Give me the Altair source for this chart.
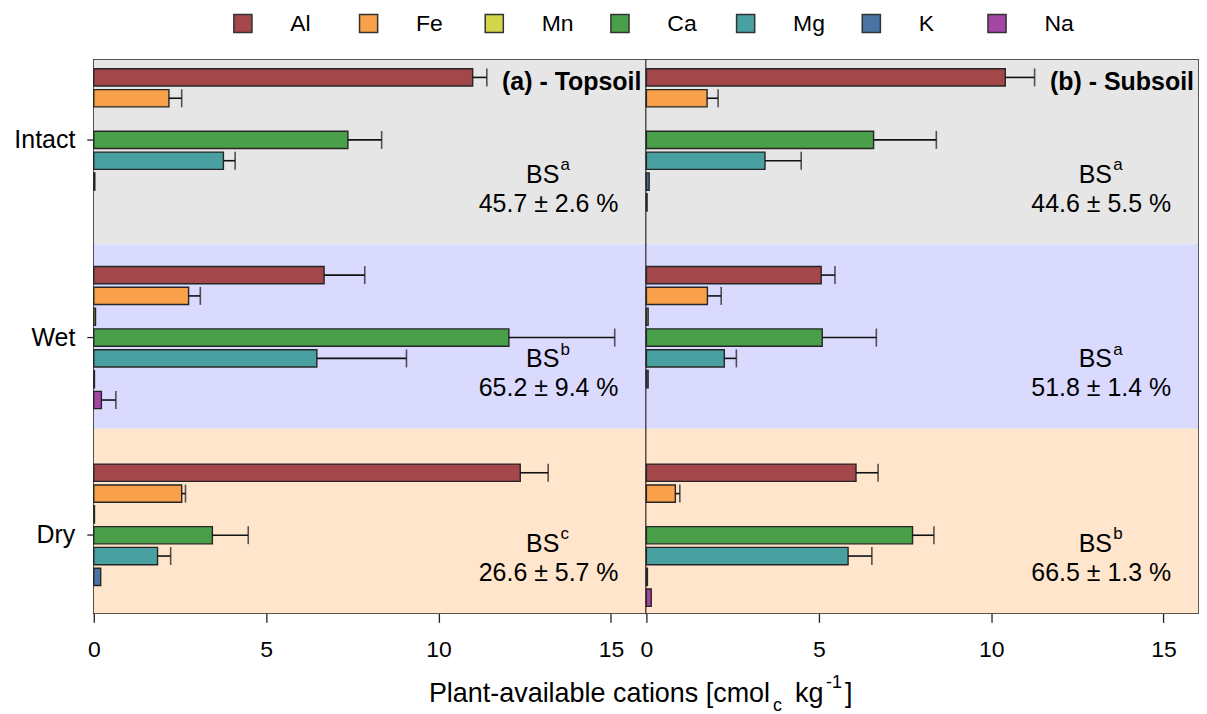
import altair as alt
import pandas as pd

cations = ["Al", "Fe", "Mn", "Ca", "Mg", "K", "Na"]
treatments = ["Intact", "Wet", "Dry"]
cation_colors = ["#a3474a", "#f8a14a", "#d5d54b", "#4aa04a", "#48a0a0", "#4a74a4", "#a446a4"]
bg_colors = ["#e6e6e6", "#dadaff", "#fee5cc"]
panel_titles = ["(a) - Topsoil", "(b) - Subsoil"]

# Topsoil means / standard deviations (order: Al, Fe, Mn, Ca, Mg, K, Na)
top_intact_mean = [10.99, 2.18, 0.0, 7.37, 3.76, 0.03, 0.0]
top_intact_sd = [0.41, 0.37, 0.0, 0.98, 0.34, 0.0, 0.0]
top_wet_mean = [6.68, 2.75, 0.05, 12.04, 6.47, 0.02, 0.22]
top_wet_sd = [1.18, 0.34, 0.0, 3.07, 2.60, 0.0, 0.42]
top_dry_mean = [12.37, 2.55, 0.02, 3.44, 1.85, 0.20, 0.0]
top_dry_sd = [0.81, 0.11, 0.0, 1.04, 0.38, 0.0, 0.0]

# Subsoil
sub_intact_mean = [10.41, 1.76, 0.0, 6.59, 3.44, 0.08, 0.02]
sub_intact_sd = [0.85, 0.32, 0.0, 1.82, 1.05, 0.0, 0.0]
sub_wet_mean = [5.07, 1.77, 0.05, 5.10, 2.26, 0.05, 0.0]
sub_wet_sd = [0.40, 0.40, 0.0, 1.57, 0.35, 0.0, 0.0]
sub_dry_mean = [6.08, 0.84, 0.0, 7.72, 5.85, 0.03, 0.14]
sub_dry_sd = [0.64, 0.13, 0.0, 0.62, 0.69, 0.0, 0.0]

top_bs_letter = ["a", "b", "c"]
top_bs_value = ["45.7 ± 2.6 %", "65.2 ± 9.4 %", "26.6 ± 5.7 %"]
sub_bs_letter = ["a", "a", "b"]
sub_bs_value = ["44.6 ± 5.5 %", "51.8 ± 1.4 %", "66.5 ± 1.3 %"]

FONT = "Liberation Sans"
W, H = 553, 555


def make_df(means, sds):
    rows = []
    for t, m_list, s_list in zip(treatments, means, sds):
        for c, m, s in zip(cations, m_list, s_list):
            rows.append({"treatment": t, "cation": c, "mean": m, "sd": s, "hi": m + s})
    return pd.DataFrame(rows)


def panel(means, sds, letters, values, title, left):
    df = make_df(means, sds)
    bs_df = pd.DataFrame({"treatment": treatments, "letter": letters, "value": values})

    bg_y = alt.Y("treatment:N", sort=treatments,
                 scale=alt.Scale(type="band", domain=treatments, paddingInner=0, paddingOuter=0),
                 axis=None)
    bar_scale = alt.Scale(domain=treatments, range=[8, 549], paddingInner=0.27, paddingOuter=0)
    off_scale = alt.Scale(domain=cations, paddingInner=0.17, paddingOuter=0.05)
    xscale = alt.Scale(domain=[0, 16], nice=False, zero=True)

    if left:
        yaxis = alt.Axis(title=None, domain=False, tickSize=7, labelPadding=12,
                         labelFontSize=25, tickColor="#222", tickWidth=1.3, labelColor="#000")
        legend = alt.Legend(title=None, orient="none", legendX=138, legendY=-48,
                            direction="horizontal", columns=7, gridAlign="all")
    else:
        yaxis = None
        legend = None

    bg = alt.Chart(pd.DataFrame({"treatment": treatments})).mark_rect().encode(
        y=bg_y,
        x=alt.value(0), x2=alt.value(W),
        fill=alt.Fill("treatment:N", sort=treatments,
                      scale=alt.Scale(domain=treatments, range=bg_colors), legend=None),
    )

    bars = alt.Chart(df).transform_filter("datum.mean > 0").mark_bar(
        stroke="#262626", strokeWidth=1.4
    ).encode(
        x=alt.X("mean:Q", scale=xscale, stack=None,
                axis=alt.Axis(values=[0, 5, 10, 15], title=None, domain=False, tickSize=9,
                              labelFontSize=23, labelPadding=16, grid=False,
                              tickColor="#222", tickWidth=1.3, labelColor="#000",
                              labelFlush=False)),
        y=alt.Y("treatment:N", sort=treatments, scale=bar_scale, axis=yaxis),
        yOffset=alt.YOffset("cation:N", sort=cations, scale=off_scale),
        color=alt.Color("cation:N", sort=cations,
                        scale=alt.Scale(domain=cations, range=cation_colors), legend=legend),
    )

    err = alt.Chart(df).transform_filter("datum.sd > 0").mark_rule(
        color="#111", strokeWidth=1.6
    ).encode(
        x=alt.X("mean:Q", scale=xscale),
        x2="hi:Q",
        y=alt.Y("treatment:N", sort=treatments, scale=bar_scale, axis=None),
        yOffset=alt.YOffset("cation:N", sort=cations, scale=off_scale),
    )

    caps = alt.Chart(df).transform_filter("datum.sd > 0").mark_tick(
        color="#111", thickness=1.6, size=18
    ).encode(
        x=alt.X("hi:Q", scale=xscale),
        y=alt.Y("treatment:N", sort=treatments, scale=bar_scale, axis=None),
        yOffset=alt.YOffset("cation:N", sort=cations, scale=off_scale),
    )

    bs = alt.Chart(bs_df).mark_text(font=FONT, fontSize=25, align="center",
                                    baseline="middle", dy=23, color="#000").encode(
        y=bg_y, x=alt.value(450), text=alt.value("BS"))
    sup = alt.Chart(bs_df).mark_text(font=FONT, fontSize=17, align="left",
                                     baseline="middle", dy=13, color="#000").encode(
        y=bg_y, x=alt.value(468), text="letter:N")
    val = alt.Chart(bs_df).mark_text(font=FONT, fontSize=25, align="center",
                                     baseline="middle", dy=52, color="#000").encode(
        y=bg_y, x=alt.value(456), text="value:N")

    head = alt.Chart(pd.DataFrame({"t": [title]})).mark_text(
        font=FONT, fontSize=25, fontWeight="bold", align="right", baseline="middle", color="#000"
    ).encode(x=alt.value(W - 4), y=alt.value(22), text="t:N")

    layers = [bg, bars, err, caps, bs, sup, val, head]

    if left:
        t_main = alt.Chart(pd.DataFrame({"t": ["Plant-available cations [cmol"]})).mark_text(
            font=FONT, fontSize=27, align="right", baseline="middle", color="#000"
        ).encode(x=alt.value(678), y=alt.value(636), text="t:N")
        t_sub = alt.Chart(pd.DataFrame({"t": ["c"]})).mark_text(
            font=FONT, fontSize=18, align="left", baseline="middle", color="#000"
        ).encode(x=alt.value(681), y=alt.value(648), text="t:N")
        t_kg = alt.Chart(pd.DataFrame({"t": ["kg"]})).mark_text(
            font=FONT, fontSize=27, align="left", baseline="middle", color="#000"
        ).encode(x=alt.value(703), y=alt.value(636), text="t:N")
        t_sup = alt.Chart(pd.DataFrame({"t": ["-1"]})).mark_text(
            font=FONT, fontSize=18, align="left", baseline="middle", color="#000"
        ).encode(x=alt.value(734), y=alt.value(625), text="t:N")
        t_br = alt.Chart(pd.DataFrame({"t": ["]"]})).mark_text(
            font=FONT, fontSize=27, align="left", baseline="middle", color="#000"
        ).encode(x=alt.value(753), y=alt.value(636), text="t:N")
        layers += [t_main, t_sub, t_kg, t_sup, t_br]

    return alt.layer(*layers).resolve_scale(y="independent").properties(width=W, height=H)


left = panel([top_intact_mean, top_wet_mean, top_dry_mean],
             [top_intact_sd, top_wet_sd, top_dry_sd],
             top_bs_letter, top_bs_value, panel_titles[0], True)
right = panel([sub_intact_mean, sub_wet_mean, sub_dry_mean],
              [sub_intact_sd, sub_wet_sd, sub_dry_sd],
              sub_bs_letter, sub_bs_value, panel_titles[1], False)

chart = alt.hconcat(left, right, spacing=1, bounds="flush").properties(
    padding={"left": 5, "top": 3, "right": 0, "bottom": 0},
    background="white",
).configure(font=FONT).configure_view(
    stroke="#222", strokeWidth=1.5
).configure_axis(
    labelFont=FONT, titleFont=FONT
).configure_legend(
    labelFont=FONT, labelFontSize=23, labelColor="#000", labelOffset=36,
    symbolType="square", symbolSize=330, symbolStrokeColor="#333",
    symbolStrokeWidth=1.5, symbolOpacity=1, columnPadding=34, padding=0,
)

chart.save("out.html", embed_options={"renderer": "svg", "actions": False})
